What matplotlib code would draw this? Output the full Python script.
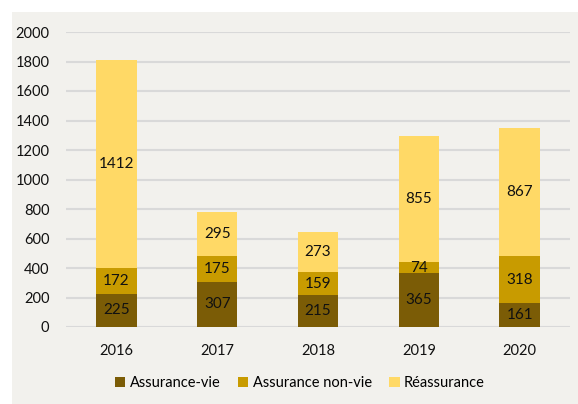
import matplotlib.pyplot as plt
import matplotlib.patches as mpatches
import numpy as np

years = ["2016", "2017", "2018", "2019", "2020"]
vie = [225, 307, 215, 365, 161]
non_vie = [172, 175, 159, 74, 318]
reass = [1412, 295, 273, 855, 867]

c_vie = "#7B5C06"
c_non = "#C89B00"
c_rea = "#FFD966"
bg = "#F2F1ED"

plt.rcParams['font.family'] = ['Lato', 'DejaVu Sans']

fig = plt.figure(figsize=(5.78, 4.04), dpi=100)
fig.patch.set_facecolor("white")
fig.patches.append(mpatches.Rectangle((12 / 578, 0), 1, (404 - 12) / 404,
                                      transform=fig.transFigure, facecolor=bg,
                                      edgecolor="none", zorder=-10))
ax = fig.add_axes([66 / 578, 1 - 327 / 404, (570 - 66) / 578, (327 - 32) / 404])
ax.set_facecolor(bg)

x = np.arange(len(years))
w = 0.4
vie = np.array(vie)
non_vie = np.array(non_vie)
reass = np.array(reass)

b1 = ax.bar(x, vie, w, color=c_vie, label="Assurance-vie", zorder=3)
b2 = ax.bar(x, non_vie, w, bottom=vie, color=c_non, label="Assurance non-vie", zorder=3)
b3 = ax.bar(x, reass, w, bottom=vie + non_vie, color=c_rea, label="Réassurance", zorder=3)

for bars, vals, bottoms in [(b1, vie, 0 * vie), (b2, non_vie, vie), (b3, reass, vie + non_vie)]:
    for xi, v, b in zip(x, vals, bottoms):
        ax.text(xi, b + v / 2, str(v), ha="center", va="center", fontsize=11,
                color="#111111", zorder=4)

ax.set_xlim(-0.5, 4.5)
ax.set_ylim(0, 2000)
ax.set_yticks(range(0, 2001, 200))
ax.set_xticks(x)
ax.set_xticklabels(years)
ax.tick_params(axis="both", length=0, labelsize=10.5, colors="#111111")
ax.tick_params(axis="x", pad=12)
ax.tick_params(axis="y", pad=12)
ax.grid(axis="y", color="#D9D9D9", linewidth=1.5, zorder=0)
for s in ax.spines.values():
    s.set_visible(False)

fig.legend(handles=[b1, b2, b3], loc="center", bbox_to_anchor=(300 / 578, 1 - 383 / 404),
           ncol=3, frameon=False, fontsize=10.5, handlelength=0.7, handleheight=0.7,
           handletextpad=0.3, columnspacing=1.2)

fig.savefig("out.png", dpi=100)
